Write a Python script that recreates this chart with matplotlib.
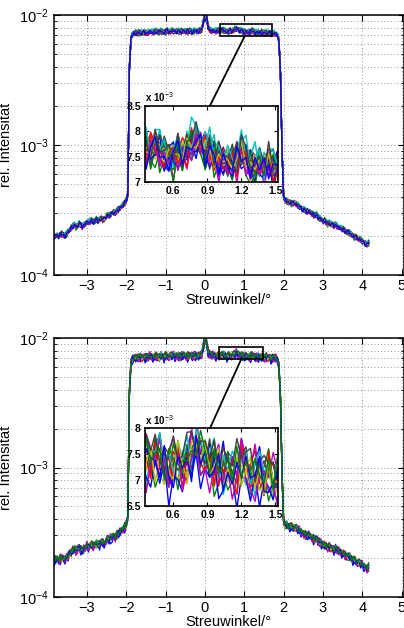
import numpy as np
import matplotlib
matplotlib.use('Agg')
import matplotlib.pyplot as plt
from matplotlib.patches import Rectangle, ConnectionPatch

plt.rcParams['font.family'] = ['Liberation Sans', 'DejaVu Sans']
plt.rcParams['mathtext.fontset'] = 'custom'
plt.rcParams['mathtext.rm'] = 'Liberation Sans'

# measured profile, step 0.04 deg starting at -3.84 (units of 1e-4)
tail_left = [1.95, 2.00, 2.02, 1.98, 2.05, 2.08, 2.03, 2.00, 2.06, 2.15,
             2.22, 2.30, 2.38, 2.42, 2.36, 2.40, 2.48, 2.44, 2.38, 2.42,
             2.50, 2.55, 2.52, 2.58, 2.62, 2.56, 2.60, 2.68, 2.62, 2.66,
             2.75, 2.70, 2.66, 2.80, 2.90, 2.85, 2.92, 3.00, 3.06, 3.00,
             3.12, 3.20, 3.28, 3.35, 3.45, 3.60, 3.75, 4.20]
plateau = [40, 66, 71, 72.5, 73, 72.5, 73.5, 73, 72.5, 73.5,
           74, 73, 73.5, 74.5, 74, 73.5, 74, 75, 74.5, 74,
           75, 74.5, 74, 75, 75.5, 74.5, 75, 75.5, 75, 74.5,
           75.5, 75, 74.5, 75, 75.5, 75, 74.5, 75, 75.5, 75,
           74.5, 75, 75.5, 75, 75.5, 76, 78, 88, 104, 96,
           82, 77, 76, 75.5, 75.5, 75, 75.5, 76, 76.5, 77,
           76, 75.5, 75, 75, 75.5, 75.5, 76.5, 77.5, 78.5, 77.5,
           76.5, 76, 75, 74, 74.5, 73.5, 73.5, 74.5, 76, 74.5,
           73.5, 73, 73.5, 73, 74, 72.5, 73, 73.5, 72.5, 73,
           72.5, 72, 72.5, 71.5, 70, 64, 35, 9, 4.0]
tail_right = [3.75, 3.70, 3.62, 3.66, 3.58, 3.55, 3.60, 3.52, 3.42, 3.35,
              3.30, 3.22, 3.18, 3.12, 3.08, 3.10, 3.02, 2.95, 2.92, 2.88,
              2.90, 2.78, 2.72, 2.66, 2.60, 2.63, 2.55, 2.50, 2.52, 2.46,
              2.44, 2.42, 2.45, 2.38, 2.32, 2.30, 2.26, 2.24, 2.18, 2.15,
              2.14, 2.10, 2.05, 2.02, 1.98, 1.95, 1.92, 1.90, 1.86, 1.82,
              1.78, 1.75, 1.72, 1.76]
start_angle = -3.84
step_angle = 0.04

# scan-to-scan scatter in percent
ripple = [
    [2, -1, 3, 0, -3, 1, 4, -2, 0, 2, -4, 1, 3, -1, -2, 4, 0, -3, 2, 1,
     -1, 3, -2, 0, 4, -3, 1, -1, 2, -4, 0, 3, -2, 1, -3, 2, 0, -1, 4, -2],
    [-3, 1, 0, 4, -2, -1, 3, 2, -4, 0, 1, -2, 3, -3, 2, 0, -1, 4, -2, 1,
     3, -4, 0, 2, -1, 1, -3, 4, 0, -2, 2, -1, 3, -4, 1, 0, -2, 3, -1, 2],
    [1, 4, -2, -3, 0, 2, -1, 3, 1, -4, 2, 0, -2, 4, -1, -3, 3, 1, 0, -2,
     4, -1, -3, 2, 0, 1, -4, 3, -1, 2, -2, 0, 4, -3, 1, -1, 2, -2, 3, 0],
    [0, -2, 4, 1, -3, 3, -1, 0, 2, -2, 4, -4, 1, 0, 3, -1, -2, 2, -3, 4,
     0, 1, -1, -4, 3, 2, -2, 0, 1, -3, 4, -1, 0, 2, -4, 3, 1, -2, 0, -1],
    [-1, 3, -4, 2, 1, -2, 0, 4, -3, 1, -1, 3, 0, -2, 2, -4, 1, 3, -1, 0,
     -3, 2, 4, -2, 1, -1, 0, 3, -4, 2, 1, -3, 2, 0, -1, 4, -2, 1, -3, 3],
    [4, 0, -1, -3, 2, 3, -2, 1, -4, 2, 0, -1, 4, 1, -3, 2, -2, 0, 3, -4,
     1, 2, -1, 3, -2, 0, 4, -3, -1, 1, 3, -2, 0, -4, 2, 1, -1, 3, -3, 0],
]

# per-scan settings, upper panel
shift_top = [0, 7, 13, 21, 3, 17, 29, 11, 5, 25, 33, 9, 19, 2, 27,
             15, 37, 23, 31, 6, 12, 35, 18, 26, 1, 39, 14, 22, 10]
amp_top = [0.9, 1.1, 0.7, 1.0, 1.2, 0.8, 1.0, 0.6, 1.1, 0.9, 1.2, 0.7, 1.0, 0.8, 1.1,
           0.9, 0.7, 1.2, 1.0, 0.8, 1.1, 0.6, 0.9, 1.0, 1.2, 0.8, 0.7, 1.1, 1.0]
offset_top = [0.5, -1.0, 1.5, 0.0, -1.5, 1.0, -0.5, 2.0, -2.0, 0.5, 1.0, -1.0, 0.0, 1.5, -0.5,
              -1.5, 0.5, 2.0, -1.0, 0.0, 1.0, -2.0, 0.5, -0.5, 1.5, -1.0, 0.0, 1.0, -0.5]
level_top = 1.0

# lower panel
shift_bot = [4, 19, 8, 31, 14, 26, 1, 37, 11, 22, 33, 6, 17, 28, 9, 35]
amp_bot = [1.4, 1.2, 1.6, 1.3, 1.5, 1.1, 1.4, 1.6, 1.2, 1.5, 1.3, 1.4, 1.6, 1.2, 1.5, 1.3]
offset_bot = [2.0, -3.0, 1.0, -1.5, 3.0, -2.0, 0.5, -4.0, 1.5, -0.5, 2.5, -2.5, 0.0, 3.5, -1.0, 1.0]
level_bot = 0.967

rect_top = [0.38, 6.93e-3, 1.70, 8.53e-3]
rect_bot = [0.35, 6.85e-3, 1.48, 8.48e-3]
link_top = [1.015, 0.923]
link_bot = [0.92, 0.923]
inset_ylim_top = [7.0, 8.5]
inset_ylim_bot = [6.5, 8.0]
inset_yticks_top = [7, 7.5, 8, 8.5]
inset_yticks_bot = [6.5, 7, 7.5, 8]
inset_xticks = [0.6, 0.9, 1.2, 1.5]
xticks = [-3, -2, -1, 0, 1, 2, 3, 4, 5]

colors = ['#0000ff', '#008000', '#ff0000', '#00bfbf', '#bf00bf', '#bfbf00', '#404040']

W, H = 404, 628
fig = plt.figure(figsize=(W / 100, H / 100), dpi=100)

base = np.array(tail_left + plateau + tail_right) * 1e-4
angle = start_angle + step_angle * np.arange(len(base))


def scans(shifts, amps, offsets, level):
    out = []
    for k, (s, a, o) in enumerate(zip(shifts, amps, offsets)):
        row = np.resize(np.array(ripple[k % len(ripple)], float), len(base))
        row = np.roll(row, s)
        out.append(base * level * (1 + 0.01 * (a * row + o)))
    return out


def panel(top_px, bot_px, curves, rect, link, in_top, in_bot, iylim, iyticks):
    ax = fig.add_axes([53.5 / W, 1 - bot_px / H, 350.5 / W, (bot_px - top_px) / H])
    for k, y in enumerate(curves):
        ax.plot(angle, y, color=colors[k % 7], lw=0.9)
    ax.set_yscale('log')
    ax.set_ylim(1e-4, 1e-2)
    ax.set_xlim(-3.85, 5.06)
    ax.set_xticks(xticks)
    ax.set_xticklabels(['\u2212%d' % -t if t < 0 else '%d' % t for t in xticks])
    ax.tick_params(which='both', direction='in', top=True, right=True, labelsize=10.5)
    ax.tick_params(which='major', length=4)
    ax.tick_params(which='minor', length=2)
    ax.tick_params(axis='x', pad=3)
    ax.grid(True, which='major', axis='x', color='0.45', ls=(0, (1, 3)), lw=0.6)
    ax.grid(True, which='both', axis='y', color='0.45', ls=(0, (1, 3)), lw=0.6)
    for sp in ax.spines.values():
        sp.set_linewidth(1.1)
    ax.set_xlabel('Streuwinkel/\u00b0', fontsize=10.5, labelpad=0)
    ax.set_ylabel('rel. Intensit\u00e4t', fontsize=10.5)
    ax.yaxis.set_label_coords(-0.115, 0.5)
    ax.add_patch(Rectangle((rect[0], rect[1]), rect[2] - rect[0], rect[3] - rect[1],
                           fill=False, ec='k', lw=1.2, zorder=5))

    ins = fig.add_axes([145 / W, 1 - in_bot / H, 132.7 / W, (in_bot - in_top) / H])
    for k, y in enumerate(curves):
        ins.plot(angle, y * 1e3, color=colors[k % 7], lw=1.0)
    ins.set_xlim(0.35, 1.52)
    ins.set_ylim(*iylim)
    ins.set_xticks(inset_xticks)
    ins.set_yticks(iyticks)
    ins.set_xticklabels(['%g' % t for t in inset_xticks])
    ins.set_yticklabels(['%g' % t for t in iyticks])
    ins.tick_params(direction='in', top=True, right=True, length=3,
                    labelsize=7.5, pad=3)
    for lab in ins.get_xticklabels() + ins.get_yticklabels():
        lab.set_fontweight('bold')
    for sp in ins.spines.values():
        sp.set_linewidth(1.2)
    ins.text(0.0, 1.02, r'x 10$^{-3}$', transform=ins.transAxes, fontsize=7,
             fontweight='bold', ha='left', va='bottom')

    con = ConnectionPatch(xyA=(link[0], rect[1]), coordsA=ax.transData,
                          xyB=(link[1], iylim[1]), coordsB=ins.transData,
                          color='k', lw=1.3)
    fig.add_artist(con)
    return ax, ins


panel(15, 275, scans(shift_top, amp_top, offset_top, level_top), rect_top, link_top,
      105.7, 182.3, inset_ylim_top, inset_yticks_top)
panel(338, 597, scans(shift_bot, amp_bot, offset_bot, level_bot), rect_bot, link_bot,
      428.3, 506, inset_ylim_bot, inset_yticks_bot)

fig.savefig('out.png', dpi=100)
